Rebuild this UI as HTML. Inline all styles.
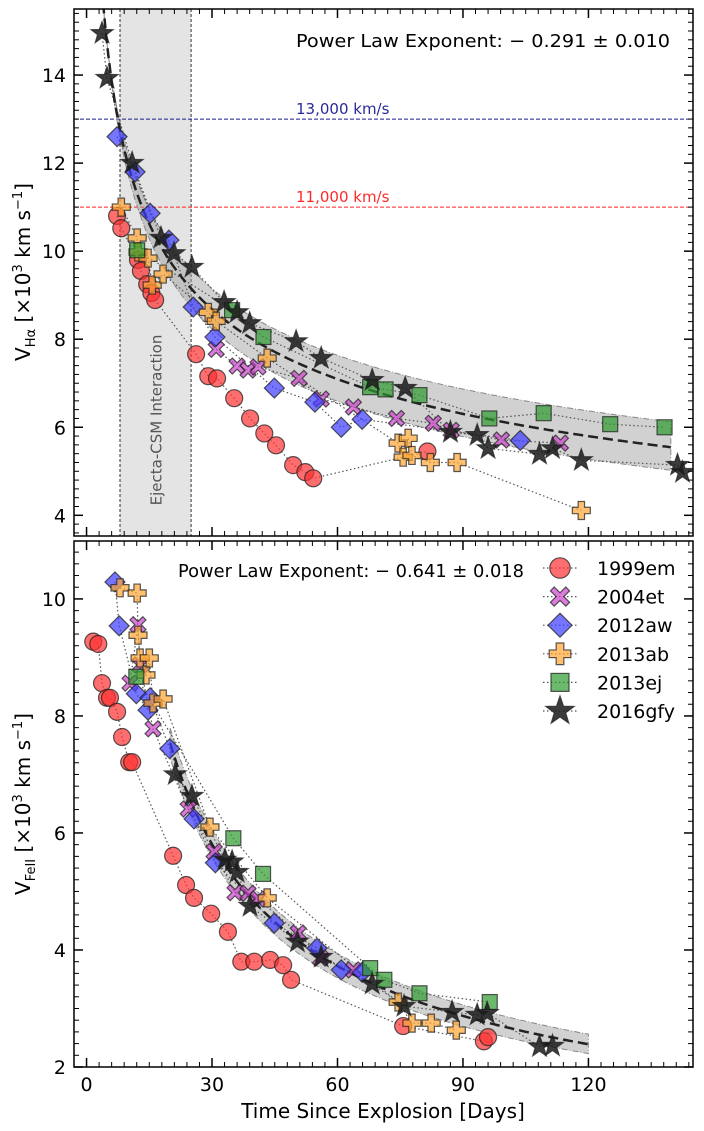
<!DOCTYPE html>
<html><head><meta charset="utf-8"><style>
body{margin:0;background:#fff}
svg{display:block;font-family:"DejaVu Sans","Liberation Sans",sans-serif}
</style></head><body>
<svg id="c" width="704" height="1131" viewBox="0 0 704 1131"></svg>
<script>
const sn = ["1999em","2004et","2012aw","2013ab","2013ej","2016gfy"];
const colors = ["#ff3030","#cc44cc","#3a3aff","#ffa533","#2e9a2e","#1a1a1a"];
const haDays = [
 [7.3,8.3,12.3,13.0,14.5,15.5,16.4,26.2,29.1,31.2,35.3,39.1,42.5,45.3,49.4,52.3,54.2,81.5],
 [31.0,36.0,38.6,41.0,50.8,56.1,63.8,74.1,82.9,87.2,99.2,113.3],
 [7.3,11.6,15.2,19.7,25.5,30.7,44.9,54.6,60.9,65.9,103.7],
 [8.3,12.1,12.3,14.7,15.7,18.3,29.1,31.0,43.2,74.5,75.7,76.9,77.8,82.2,88.6,118.3],
 [12.1,34.8,42.3,67.8,71.5,79.6,96.3,109.3,125.2,138.2],
 [3.7,4.9,10.9,17.8,20.9,25.2,32.9,36.0,39.0,50.1,56.1,68.3,76.2,87.0,93.4,96.0,108.3,111.4,118.3,141.3,142.5]
];
const haVals = [
 [10.8,10.52,9.8,9.55,9.25,9.05,8.89,7.66,7.16,7.11,6.66,6.2,5.86,5.59,5.14,4.98,4.84,5.45],
 [7.77,7.39,7.3,7.37,7.11,6.64,6.46,6.2,6.09,5.93,5.71,5.64],
 [12.6,11.8,10.86,10.25,8.73,8.05,6.89,6.57,6.0,6.18,5.7],
 [11.0,10.3,9.98,9.84,9.23,9.48,8.61,8.41,7.57,5.64,5.32,5.75,5.36,5.2,5.2,4.11],
 [10.02,8.66,8.05,6.91,6.86,6.73,6.2,6.32,6.07,6.0],
 [14.95,13.93,12.0,10.3,9.95,9.64,8.84,8.61,8.36,7.95,7.57,7.07,6.89,5.89,5.82,5.52,5.39,5.52,5.25,5.14,4.98]
];
const feDays = [
 [1.6,2.8,3.7,4.9,5.6,7.3,8.5,10.2,10.9,20.7,23.8,25.7,29.8,33.8,37.0,40.1,43.9,47.0,48.9,75.7,95.0,96.0],
 [10.4,12.3,12.8,15.9,24.3,30.5,35.5,38.6,41.0,50.6,55.9,63.8],
 [6.8,7.8,11.9,14.7,15.2,19.9,25.7,30.8,44.9,55.1,60.9,65.9],
 [8.0,12.1,12.3,12.8,14.2,15.0,15.9,18.3,29.5,43.2,74.5,77.8,82.4,88.4],
 [11.9,35.1,42.2,67.8,71.2,79.6,96.4],
 [21.2,25.2,33.1,34.8,36.0,39.1,50.4,56.1,68.3,75.9,87.4,93.4,95.8,108.3,111.4]
];
const feVals = [
 [9.27,9.23,8.56,8.31,8.31,8.07,7.64,7.21,7.21,5.61,5.11,4.89,4.62,4.31,3.8,3.8,3.83,3.74,3.49,2.7,2.44,2.51],
 [8.56,9.56,8.87,7.78,6.41,5.68,4.98,4.97,4.87,4.29,3.86,3.66],
 [10.29,9.54,8.38,8.1,8.31,7.44,6.24,5.49,4.46,4.03,3.66,3.62],
 [10.19,10.1,9.38,8.99,8.7,8.99,8.22,8.29,6.1,4.89,3.11,2.75,2.75,2.63],
 [8.67,5.91,5.3,3.69,3.49,3.26,3.11],
 [7.0,6.63,5.54,5.51,5.33,4.75,4.14,3.88,3.42,3.04,2.94,2.89,2.92,2.35,2.36]
];
const xTicks = [0,30,60,90,120];
const topYTicks = [4,6,8,10,12,14];
const botYTicks = [2,4,6,8,10];
const topFit = {amp:23.35, exp:-0.291};
const botFit = {amp:51.4, exp:-0.641};
const NS="http://www.w3.org/2000/svg";
const svg=document.getElementById('c');
function mk(tag,attrs,parent){const e=document.createElementNS(NS,tag);for(const k in attrs)e.setAttribute(k,attrs[k]);(parent||svg).appendChild(e);return e;}
const L=74,R=693;
const X0=-3,X1=145;
const xs=d=>L+(d-X0)/(X1-X0)*(R-L);
const P1={top:9,bot:536,v0:3.53,v1:15.5};
const P2={top:541,bot:1067,v0:2,v1:10.99};
const ys=(P,v)=>P.bot-(v-P.v0)/(P.v1-P.v0)*(P.bot-P.top);

function clip(id,P){const cp=mk('clipPath',{id:id});mk('rect',{x:L,y:P.top,width:R-L,height:P.bot-P.top},cp);}
clip('cp1',P1);clip('cp2',P2);

function marker(g,i,cx,cy,s){
  const st={fill:colors[i],'fill-opacity':i==5?0.85:0.7,stroke:'#222','stroke-opacity':0.75,'stroke-width':1.2};
  let e;
  if(i==0){e=mk('circle',Object.assign({cx:cx,cy:cy,r:8.5*s},st),g);}
  else if(i==1){const a=3.2*s,b=8*s;e=mk('path',Object.assign({d:`M${cx-b+a} ${cy-b}L${cx} ${cy-a}L${cx+b-a} ${cy-b}L${cx+b} ${cy-b+a}L${cx+a} ${cy}L${cx+b} ${cy+b-a}L${cx+b-a} ${cy+b}L${cx} ${cy+a}L${cx-b+a} ${cy+b}L${cx-b} ${cy+b-a}L${cx-a} ${cy}L${cx-b} ${cy-b+a}Z`},st),g);}
  else if(i==2){const r=10*s;e=mk('path',Object.assign({d:`M${cx} ${cy-r}L${cx+r} ${cy}L${cx} ${cy+r}L${cx-r} ${cy}Z`},st),g);}
  else if(i==3){const a=3.2*s,b=9*s;e=mk('path',Object.assign({d:`M${cx-a} ${cy-b}H${cx+a}V${cy-a}H${cx+b}V${cy+a}H${cx+a}V${cy+b}H${cx-a}V${cy+a}H${cx-b}V${cy-a}H${cx-a}Z`},st),g);}
  else if(i==4){const r=7.5*s;e=mk('rect',Object.assign({x:cx-r,y:cy-r,width:2*r,height:2*r},st),g);}
  else {let d='';for(let k=0;k<10;k++){const ang=-Math.PI/2+k*Math.PI/5;const r=(k%2?4.6:11.5)*s;d+=(k?'L':'M')+(cx+r*Math.cos(ang)).toFixed(1)+' '+(cy+r*Math.sin(ang)).toFixed(1);}e=mk('path',Object.assign({d:d+'Z'},st),g);}
  return e;
}

function panel(P,cpid,days,vals,fit,yTicks,pname){
  const g=mk('g',{'clip-path':`url(#${cpid})`});
  
  
  if(pname==='top'){
    const band=mk('rect',{x:xs(8),y:P.top,width:xs(25)-xs(8),height:P.bot-P.top,fill:'#e4e4e4'},g);
    
    
    [8,25].forEach(d=>mk('line',{x1:xs(d),x2:xs(d),y1:P.top,y2:P.bot,stroke:'#333','stroke-width':1,'stroke-dasharray':'3,2'},g));
    const t=mk('text',{x:0,y:0,transform:`translate(${xs(16.5)+6},420) rotate(-90)`,'text-anchor':'middle','font-size':15,fill:'#555'},g);
    t.textContent='Ejecta-CSM Interaction';
    
    
    const h1=mk('line',{x1:L,x2:R,y1:ys(P,13),y2:ys(P,13),stroke:'#1a1a8c','stroke-width':1,'stroke-dasharray':'4,2'},g);
    
    
    const h2=mk('line',{x1:L,x2:R,y1:ys(P,11),y2:ys(P,11),stroke:'#ff2020','stroke-width':1,'stroke-dasharray':'4,2'},g);
    
    
    const l1=mk('text',{x:296,y:ys(P,13)-5,'font-size':15,fill:'#2a2a9a'},g);l1.textContent='13,000 km/s';
    
    
    const l2=mk('text',{x:296,y:ys(P,11)-5,'font-size':15,fill:'#ff2a2a'},g);l2.textContent='11,000 km/s';
    
    
  }
  const t0=pname==='top'?3.2:20, t1=pname==='top'?140:120;
  let up=[],lo=[],mid=[];
  for(let t=t0;t<=t1+0.01;t+=0.5){
    const v=fit.amp*Math.pow(t,fit.exp);
    const f=1.02*Math.pow(Math.max(t,5)/10,pname==='top'?0.03:0.02);
    mid.push([xs(t),ys(P,v)]);up.push([xs(t),ys(P,v*f)]);lo.push([xs(t),ys(P,v/f)]);
  }
  const pts=a=>a.map(p=>p[0].toFixed(1)+','+p[1].toFixed(1)).join(' ');
  const fb=mk('polygon',{points:pts(up)+' '+pts(lo.slice().reverse()),fill:'#999','fill-opacity':0.45,stroke:'#888','stroke-width':1,'stroke-dasharray':'6,2,1,2'},g);
  
  
  days.forEach((ds,i)=>{
    const pl=mk('polyline',{points:ds.map((d,j)=>xs(d).toFixed(1)+','+ys(P,vals[i][j]).toFixed(1)).join(' '),fill:'none',stroke:'#555','stroke-width':1.2,'stroke-dasharray':'1.5,2.5'},g);
    
    
  });
  const fl=mk('polyline',{points:pts(mid),fill:'none',stroke:'#222','stroke-width':2.5,'stroke-dasharray':'10,5'},g);
  
  
  days.forEach((ds,i)=>{
    ds.forEach((d,j)=>{
      const m=marker(g,i,xs(d),ys(P,vals[i][j]),1);
      
      
    });
  });
  const fr=mk('rect',{x:L,y:P.top,width:R-L,height:P.bot-P.top,fill:'none',stroke:'#000','stroke-width':1.5});
  
  
  for(let d=0;d<=X1;d+=3){
    const maj=d%30===0,len=maj?9:5,x=xs(d);
    mk('line',{x1:x,x2:x,y1:P.bot,y2:P.bot-len,stroke:'#000','stroke-width':maj?1.5:1});
    mk('line',{x1:x,x2:x,y1:P.top,y2:P.top+len,stroke:'#000','stroke-width':maj?1.5:1});
  }
  for(let v=Math.ceil(P.v0*5)/5;v<=P.v1;v+=0.2){
    const r=Math.round(v*5)/5;const maj=Math.abs(r-Math.round(r))<1e-6&&Math.round(r)%2===0;const len=maj?9:5;const y=ys(P,r);
    mk('line',{x1:L,x2:L+len,y1:y,y2:y,stroke:'#000','stroke-width':maj?1.5:1});
    mk('line',{x1:R,x2:R-len,y1:y,y2:y,stroke:'#000','stroke-width':maj?1.5:1});
  }
  yTicks.forEach(v=>{
    const t=mk('text',{x:L-8,y:ys(P,v)+7,'text-anchor':'end','font-size':19});t.textContent=v;
    
    
  });
}
panel(P1,'cp1',haDays,haVals,topFit,topYTicks,'top');
panel(P2,'cp2',feDays,feVals,botFit,botYTicks,'bottom');
xTicks.forEach(d=>{
  const t=mk('text',{x:xs(d),y:1091,'text-anchor':'middle','font-size':19});t.textContent=d;
  
  
});
const xl=mk('text',{x:383,y:1118,'text-anchor':'middle','font-size':20});xl.textContent='Time Since Explosion [Days]';


const y1=mk('text',{x:0,y:0,transform:'translate(30,272) rotate(-90)','text-anchor':'middle','font-size':20});
y1.innerHTML='V<tspan font-size="13" dy="5">Hα</tspan><tspan dy="-5"> [×10</tspan><tspan font-size="13" dy="-8">3</tspan><tspan dy="8"> km s</tspan><tspan font-size="13" dy="-8">−1</tspan><tspan dy="8">]</tspan>';


const y2=mk('text',{x:0,y:0,transform:'translate(30,804) rotate(-90)','text-anchor':'middle','font-size':20});
y2.innerHTML='V<tspan font-size="13" dy="5">FeII</tspan><tspan dy="-5"> [×10</tspan><tspan font-size="13" dy="-8">3</tspan><tspan dy="8"> km s</tspan><tspan font-size="13" dy="-8">−1</tspan><tspan dy="8">]</tspan>';


const a1=mk('text',{x:670,y:47,'text-anchor':'end','font-size':18,textLength:374,lengthAdjust:'spacingAndGlyphs'});a1.textContent='Power Law Exponent: − 0.291 ± 0.010';


const a2=mk('text',{x:178,y:577,'font-size':18,textLength:346,lengthAdjust:'spacingAndGlyphs'});a2.textContent='Power Law Exponent: − 0.641 ± 0.018';


sn.forEach((s,i)=>{
  const y=568+i*28.6;
  const g=mk('g',{});
  
  
  mk('line',{x1:543,x2:578,y1:y,y2:y,stroke:'#555','stroke-width':1.2,'stroke-dasharray':'1.5,2.5'},g);
  marker(g,i,560,y,i==5?1.3:1.2);
  const t=mk('text',{x:597,y:y+7,'font-size':19},g);t.textContent=s;
});
</script>
</body></html>
